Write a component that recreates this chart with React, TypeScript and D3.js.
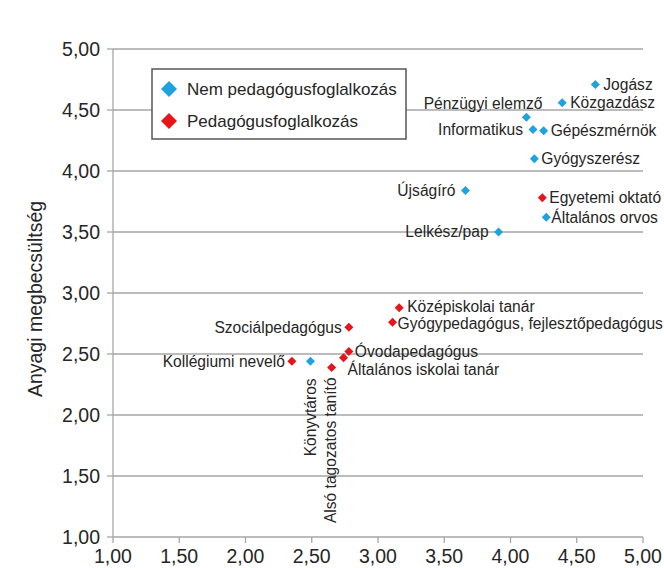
import React from 'react';
import * as d3 from 'd3';

// non-teaching jobs (blue)
const otherJobs = ['Jogász', 'Közgazdász', 'Pénzügyi elemző', 'Informatikus', 'Gépészmérnök', 'Gyógyszerész', 'Újságíró', 'Általános orvos', 'Lelkész/pap', 'Könyvtáros'];
const otherX = [4.64, 4.39, 4.12, 4.17, 4.25, 4.18, 3.66, 4.27, 3.91, 2.49];
const otherY = [4.71, 4.56, 4.44, 4.34, 4.33, 4.10, 3.84, 3.62, 3.50, 2.44];

// teaching jobs (red)
const teacherJobs = ['Egyetemi oktató', 'Középiskolai tanár', 'Gyógypedagógus, fejlesztőpedagógus', 'Szociálpedagógus', 'Óvodapedagógus', 'Általános iskolai tanár', 'Kollégiumi nevelő', 'Alsó tagozatos tanító'];
const teacherX = [4.24, 3.16, 3.11, 2.78, 2.78, 2.74, 2.35, 2.65];
const teacherY = [3.78, 2.88, 2.76, 2.72, 2.52, 2.47, 2.44, 2.39];

const seriesNames = ['Nem pedagógusfoglalkozás', 'Pedagógusfoglalkozás'];
const ticks = [1, 1.5, 2, 2.5, 3, 3.5, 4, 4.5, 5];

const colors = ['#1ea3e0', '#e8141c'];

// where each label sits next to its marker
const labelPos: Record<string, { dx: number; dy: number; anchor: string; vertical?: boolean }> = {
  'Jogász': { dx: 8, dy: 0, anchor: 'start' },
  'Közgazdász': { dx: 8, dy: 0, anchor: 'start' },
  'Pénzügyi elemző': { dx: 16, dy: -14, anchor: 'end' },
  'Informatikus': { dx: -10, dy: 0, anchor: 'end' },
  'Gépészmérnök': { dx: 7, dy: 0, anchor: 'start' },
  'Gyógyszerész': { dx: 7, dy: 0, anchor: 'start' },
  'Újságíró': { dx: -10, dy: 0, anchor: 'end' },
  'Általános orvos': { dx: 5, dy: 0, anchor: 'start' },
  'Lelkész/pap': { dx: -10, dy: 0, anchor: 'end' },
  'Könyvtáros': { dx: 6, dy: 17, anchor: 'end', vertical: true },
  'Egyetemi oktató': { dx: 7, dy: 0, anchor: 'start' },
  'Középiskolai tanár': { dx: 8, dy: -1, anchor: 'start' },
  'Gyógypedagógus, fejlesztőpedagógus': { dx: 5, dy: 1, anchor: 'start' },
  'Szociálpedagógus': { dx: -7, dy: 0, anchor: 'end' },
  'Óvodapedagógus': { dx: 6, dy: 0, anchor: 'start' },
  'Általános iskolai tanár': { dx: 4, dy: 12, anchor: 'start' },
  'Kollégiumi nevelő': { dx: -7, dy: 0, anchor: 'end' },
  'Alsó tagozatos tanító': { dx: 4, dy: 10, anchor: 'end', vertical: true },
};

const width = 664;
const height = 568;
const margin = { top: 49, right: 21, bottom: 31, left: 113 };
const font = 'Liberation Sans, Arial, sans-serif';
const ink = '#262626';

const diamond = (s: number) => `M0,${-s}L${s},0L0,${s}L${-s},0Z`;

export default function App() {
  const x = d3.scaleLinear().domain([1, 5]).range([margin.left, width - margin.right]);
  const y = d3.scaleLinear().domain([1, 5]).range([height - margin.bottom, margin.top]);
  const fmt = (v: number) => d3.format('.2f')(v).replace('.', ',');

  const points = [
    ...otherJobs.map((n, i) => ({ name: n, x: otherX[i], y: otherY[i], g: 0 })),
    ...teacherJobs.map((n, i) => ({ name: n, x: teacherX[i], y: teacherY[i], g: 1 })),
  ];

  return (
    <svg width={width} height={height} style={{ position: 'absolute', left: 0, top: 0, background: '#fff' }} fontFamily={font}>
      {/* grid */}
      {ticks.slice(1).map((t) => (
        <line key={'g' + t} x1={x(1)} x2={x(5)} y1={y(t)} y2={y(t)} stroke="#a6a6a6" strokeWidth={1.3} />
      ))}
      {/* axes */}
      <line x1={x(1)} x2={x(1)} y1={y(1)} y2={y(5)} stroke="#a6a6a6" strokeWidth={1.3} />
      <line x1={x(1)} x2={x(5)} y1={y(1)} y2={y(1)} stroke="#a6a6a6" strokeWidth={1.3} />
      {ticks.map((t) => (
        <g key={'y' + t}>
          <line x1={x(1) - 6} x2={x(1)} y1={y(t)} y2={y(t)} stroke="#a6a6a6" strokeWidth={1.3} />
          <text x={x(1) - 13} y={y(t)} dy="0.35em" textAnchor="end" fontSize={19.5} fill={ink}>{fmt(t)}</text>
        </g>
      ))}
      {ticks.map((t) => (
        <g key={'x' + t}>
          <line x1={x(t)} x2={x(t)} y1={y(1)} y2={y(1) + 6} stroke="#a6a6a6" strokeWidth={1.3} />
          <text x={x(t)} y={y(1) + 26} textAnchor="middle" fontSize={19.5} fill={ink}>{fmt(t)}</text>
        </g>
      ))}
      <text transform={`translate(42,${(y(1) + y(5)) / 2 + 6}) rotate(-90)`} textAnchor="middle" fontSize={19.5} fill={ink}>
        Anyagi megbecsültség
      </text>

      {/* points */}
      {points.map((p) => (
        <path key={p.name} d={diamond(4.5)} transform={`translate(${x(p.x)},${y(p.y)})`} fill={colors[p.g]} />
      ))}
      {/* labels */}
      {points.map((p) => {
        const l = labelPos[p.name];
        const px = x(p.x) + l.dx;
        const py = y(p.y) + l.dy;
        if (l.vertical) {
          return (
            <text key={'l' + p.name} transform={`translate(${px},${py}) rotate(-90)`} textAnchor={l.anchor} fontSize={15.6} fill={ink}>
              {p.name}
            </text>
          );
        }
        return (
          <text key={'l' + p.name} x={px} y={py} dy="0.35em" textAnchor={l.anchor} fontSize={15.6} fill={ink}>
            {p.name}
          </text>
        );
      })}

      {/* legend */}
      <g transform="translate(152,69)">
        <rect width={254} height={70} fill="#fff" stroke="#555" strokeWidth={1.5} />
        {seriesNames.map((s, i) => (
          <g key={s} transform={`translate(17,${20 + i * 32})`}>
            <path d={diamond(8)} fill={colors[i]} />
            <text x={18} dy="0.35em" fontSize={17} fill={ink}>{s}</text>
          </g>
        ))}
      </g>
    </svg>
  );
}
